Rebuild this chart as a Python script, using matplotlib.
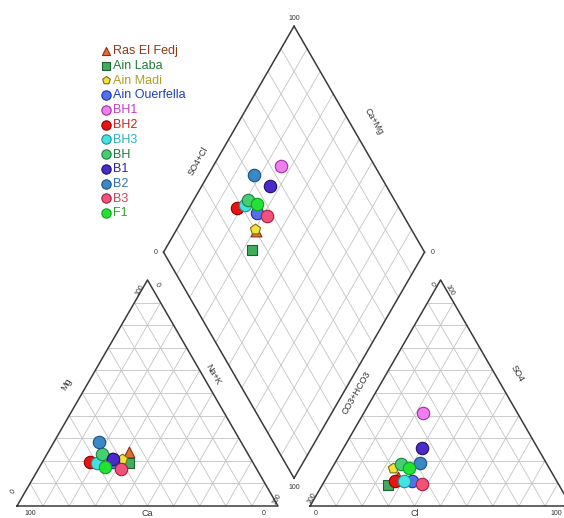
import numpy as np
import matplotlib
matplotlib.use('Agg')
import matplotlib.pyplot as plt

# samples (percent of meq)
names = ['Ras El Fedj', 'Ain Laba', 'Ain Madi', 'Ain Ouerfella', 'BH1', 'BH2',
         'BH3', 'BH', 'B1', 'B2', 'B3', 'F1']
ca = [45.1, 47.5, 49.2, 53.5, 53.0, 62.2, 59.9, 56.1, 52.6, 54.4, 52.2, 57.8]
mg = [24.0, 19.2, 20.8, 19.5, 21.0, 19.3, 19.2, 22.9, 21.0, 28.1, 16.2, 17.3]
nak = [30.9, 33.3, 30.0, 27.0, 26.0, 18.5, 20.9, 21.0, 26.4, 17.5, 31.6, 24.9]
hco3 = [59.7, 65.6, 59.6, 55.5, 36.1, 62.1, 58.3, 56.0, 44.5, 48.3, 52.4, 53.6]
so4 = [13.0, 9.3, 17.0, 11.1, 41.0, 11.1, 11.1, 18.4, 25.5, 19.2, 9.6, 16.9]
cl = [27.3, 25.1, 23.4, 33.4, 22.9, 26.8, 30.6, 25.6, 30.0, 32.5, 38.0, 29.5]

markers = ['^', 's', 'p', 'o', 'o', 'o', 'o', 'o', 'o', 'o', 'o', 'o']
fills = ['#e2702e', '#3fae5c', '#f2e23c', '#5470ee', '#f07ef0', '#e81414',
         '#44e2e2', '#44d070', '#4a2ac8', '#3a88c6', '#f2527a', '#22e232']
edges = ['#8a3010', '#1e6030', '#807010', '#2030a0', '#a030a0', '#900000',
         '#209090', '#208040', '#201070', '#1f5080', '#a02040', '#10a020']
txtcol = ['#8a3a1a', '#207a3c', '#b0a020', '#2040c0', '#c040c0', '#d02020',
          '#30b0c0', '#207a3c', '#3020a0', '#3070b0', '#d04060', '#30a030']

G = 12.3
SQ = np.sqrt(3) / 2
GRID = '#c4c4c4'
EDGE = '#3a3a3a'


def cat_xy(c, m, n):
    return np.asarray(n) + 0.5 * np.asarray(m), SQ * np.asarray(m)


def an_xy(h, s, c):
    return 100 + G + np.asarray(c) + 0.5 * np.asarray(s), SQ * np.asarray(s)


def dia_xy(n, sc):
    n = np.asarray(n)
    sc = np.asarray(sc)
    return (n + 100 + G + sc) / 2, SQ * (100 + G + sc - n)


def tri(ax, x0):
    for f in range(10, 100, 10):
        ax.plot([x0 + f / 2, x0 + 100 - f / 2], [SQ * f, SQ * f], c=GRID, lw=0.6, zorder=1)
        ax.plot([x0 + f, x0 + f + (100 - f) / 2], [0, SQ * (100 - f)], c=GRID, lw=0.6, zorder=1)
        ax.plot([x0 + f, x0 + f / 2], [0, SQ * f], c=GRID, lw=0.6, zorder=1)
    ax.plot([x0, x0 + 100, x0 + 50, x0], [0, 0, SQ * 100, 0], c=EDGE, lw=1.1, zorder=2)


fig = plt.figure(figsize=(5.64, 5.18), dpi=100)
ax = fig.add_axes([0, 0, 1, 1])
ax.set_xlim(-17 / 2.61, 547 / 2.61)
ax.set_ylim(-12 / 2.61, 506 / 2.61)
ax.axis('off')

tri(ax, 0)
tri(ax, 100 + G)

# diamond grid
for k in range(0, 101, 10):
    xa, ya = dia_xy([k, k], [0, 100])
    xb, yb = dia_xy([0, 100], [k, k])
    col, lw, z = (EDGE, 1.1, 2) if k in (0, 100) else (GRID, 0.6, 1)
    ax.plot(xa, ya, c=col, lw=lw, zorder=z)
    ax.plot(xb, yb, c=col, lw=lw, zorder=z)

sc4 = np.array(so4) + np.array(cl)
for i in range(len(names)):
    x1, y1 = cat_xy(ca[i], mg[i], nak[i])
    x2, y2 = an_xy(hco3[i], so4[i], cl[i])
    x3, y3 = dia_xy(nak[i], sc4[i])
    sz = 80 if markers[i] == 'o' else 60
    ax.scatter([x1, x2, x3], [y1, y2, y3], s=sz, marker=markers[i], c=fills[i],
               edgecolors=edges[i], linewidths=0.8, zorder=3 + i, label=names[i])

tk = dict(fontsize=5, color='#333333', ha='center', va='center', family='Liberation Sans')
lb = dict(fontsize=6.5, color='#333333', ha='center', va='center', family='Liberation Sans')
R0 = 100 + G
D = dia_xy([0, 0, 100, 100], [0, 100, 100, 0])  # L, T, R, B
YB = -3.0
# left triangle
ax.text(5, YB, '100', **tk)
ax.text(94.5, YB, '0', **tk)
ax.text(-1.5, 5.4, '0', rotation=60, **tk)
ax.text(47, 82.8, '100', rotation=60, **tk)
ax.text(53.5, 84.7, '0', rotation=-60, **tk)
ax.text(99.5, 2.6, '100', rotation=60, **tk)
ax.text(50, YB, 'Ca', **lb)
ax.text(18.9, 46.8, 'Mg', rotation=60, **lb)
ax.text(75.1, 50.5, 'Na+K', rotation=-60, **lb)
# right triangle
ax.text(R0 + 2, YB, '0', **tk)
ax.text(R0 + 94.3, YB, '100', **tk)
ax.text(R0 + 0.8, 3.0, '100', rotation=60, **tk)
ax.text(R0 + 47.9, 84.7, '0', rotation=60, **tk)
ax.text(R0 + 53.6, 82.8, '100', rotation=-60, **tk)
ax.text(R0 + 40.2, YB, 'Cl', **lb)
ax.text(R0 + 17.9, 43.2, 'CO3+HCO3', rotation=60, **lb)
ax.text(R0 + 79.2, 50.8, 'SO4', rotation=-60, **lb)
# diamond
ax.text(D[0][1], D[1][1] + 2.9, '100', **tk)
ax.text(D[0][0] - 3, D[1][0], '0', **tk)
ax.text(D[0][2] + 3, D[1][2], '0', **tk)
ax.text(D[0][3], D[1][3] - 3.4, '100', **tk)
ax.text(69.5, 132, 'SO4+Cl', rotation=60, **lb)
ax.text(136.5, 147.3, 'Ca+Mg', rotation=-60, **lb)

leg = ax.legend(loc='upper left', bbox_to_anchor=(93 / 564, 1 - 39 / 518),
                frameon=False, markerscale=0.75, handletextpad=0.1,
                labelspacing=0.22, handlelength=1.0, borderpad=0,
                prop={'family': 'Liberation Sans', 'size': 9})
for t, c in zip(leg.get_texts(), txtcol):
    t.set_color(c)

fig.savefig('out.png', dpi=100)
